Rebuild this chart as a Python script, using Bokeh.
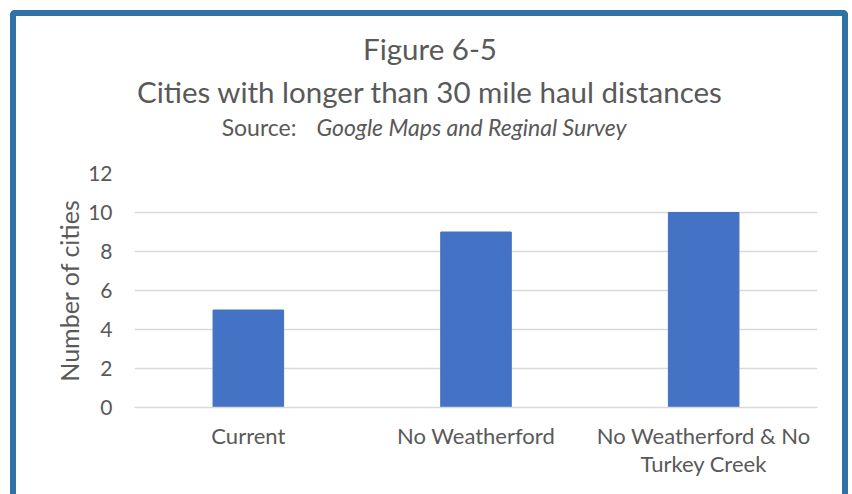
from bokeh.plotting import figure
from bokeh.layouts import column
from bokeh.models import Range1d, FactorRange
from bokeh.core.properties import value
from bokeh.embed import file_html
from bokeh.resources import INLINE

# ---- data ----
categories = ["Current", "No Weatherford", "No Weatherford & No\nTurkey Creek"]
values = [5, 9, 10]
y_ticks = [0, 2, 4, 6, 8, 10, 12]
title_line1 = "Figure 6-5"
title_line2 = "Cities with longer than 30 mile haul distances"
source_label = "Source:"
source_text = "Google Maps and Reginal Survey"
y_title = "Number of cities"

FONT = "Lato"
TXT = "#595959"
GRID = "#D9D9D9"
BAR = "#4472C4"
BORDER = "#2E72A6"
W = 838
H_TOP = 140
H_CHART = 344

# ---- title block (its own small canvas; frame aligned with the chart frame) ----
pt = figure(width=W, height=H_TOP, x_range=Range1d(134, 817), y_range=Range1d(H_TOP, 0),
            output_backend="svg", toolbar_location=None,
            x_axis_location=None, y_axis_location=None, min_border=0)
pt.grid.visible = False
pt.outline_line_color = None
pt.styles = {"border": f"6px solid {BORDER}", "border-bottom": "none",
             "border-radius": "5px 5px 0 0", "position": "relative",
             "left": "10px", "top": "10px"}

def txt(x, y, s, size, align="center", style="normal"):
    pt.text(x=[x], y=[y], text=[s], text_font=value(FONT), text_font_size=size,
            text_color=TXT, text_align=align, text_baseline="alphabetic",
            text_font_style=style)

txt(429.5, 32, title_line1, "29.5px")
txt(429.5, 75, title_line2, "29.5px")
txt(296, 110, source_label, "23px", align="right")
txt(316, 110, source_text, "23px", align="left", style="italic")

# ---- chart ----
p = figure(x_range=FactorRange(*categories), y_range=Range1d(0, 12),
           width=W, height=H_CHART, output_backend="svg", toolbar_location=None,
           min_border_left=118, min_border_right=37, min_border_top=23,
           min_border_bottom=87)
p.styles = {"border-left": f"6px solid {BORDER}", "border-right": f"6px solid {BORDER}",
            "position": "relative", "left": "10px", "top": "10px"}

p.vbar(x=categories, top=values, width=0.31, color=BAR, line_color=BAR)

p.outline_line_color = None
p.xgrid.grid_line_color = None
p.ygrid.grid_line_color = GRID
p.ygrid.grid_line_width = 1.5

p.yaxis.ticker = y_ticks
p.yaxis.axis_line_color = None
p.yaxis.major_tick_line_color = None
p.yaxis.minor_tick_line_color = None
p.yaxis.major_label_standoff = 16
p.yaxis.major_label_text_font = FONT
p.yaxis.major_label_text_font_size = "21px"
p.yaxis.major_label_text_color = TXT
p.yaxis.axis_label = y_title
p.yaxis.axis_label_text_font = FONT
p.yaxis.axis_label_text_font_size = "25px"
p.yaxis.axis_label_text_font_style = "normal"
p.yaxis.axis_label_text_color = TXT
p.yaxis.axis_label_standoff = 1

p.xaxis.axis_line_color = GRID
p.xaxis.axis_line_width = 1.5
p.xaxis.major_tick_line_color = None
p.xaxis.minor_tick_line_color = None
p.xaxis.major_label_standoff = 8
p.xaxis.major_label_text_font = FONT
p.xaxis.major_label_text_font_size = "22px"
p.xaxis.major_label_text_line_height = 1.05
p.xaxis.major_label_text_color = TXT

layout = column(pt, p, spacing=0)
open("out.html", "w").write(file_html(layout, INLINE))
